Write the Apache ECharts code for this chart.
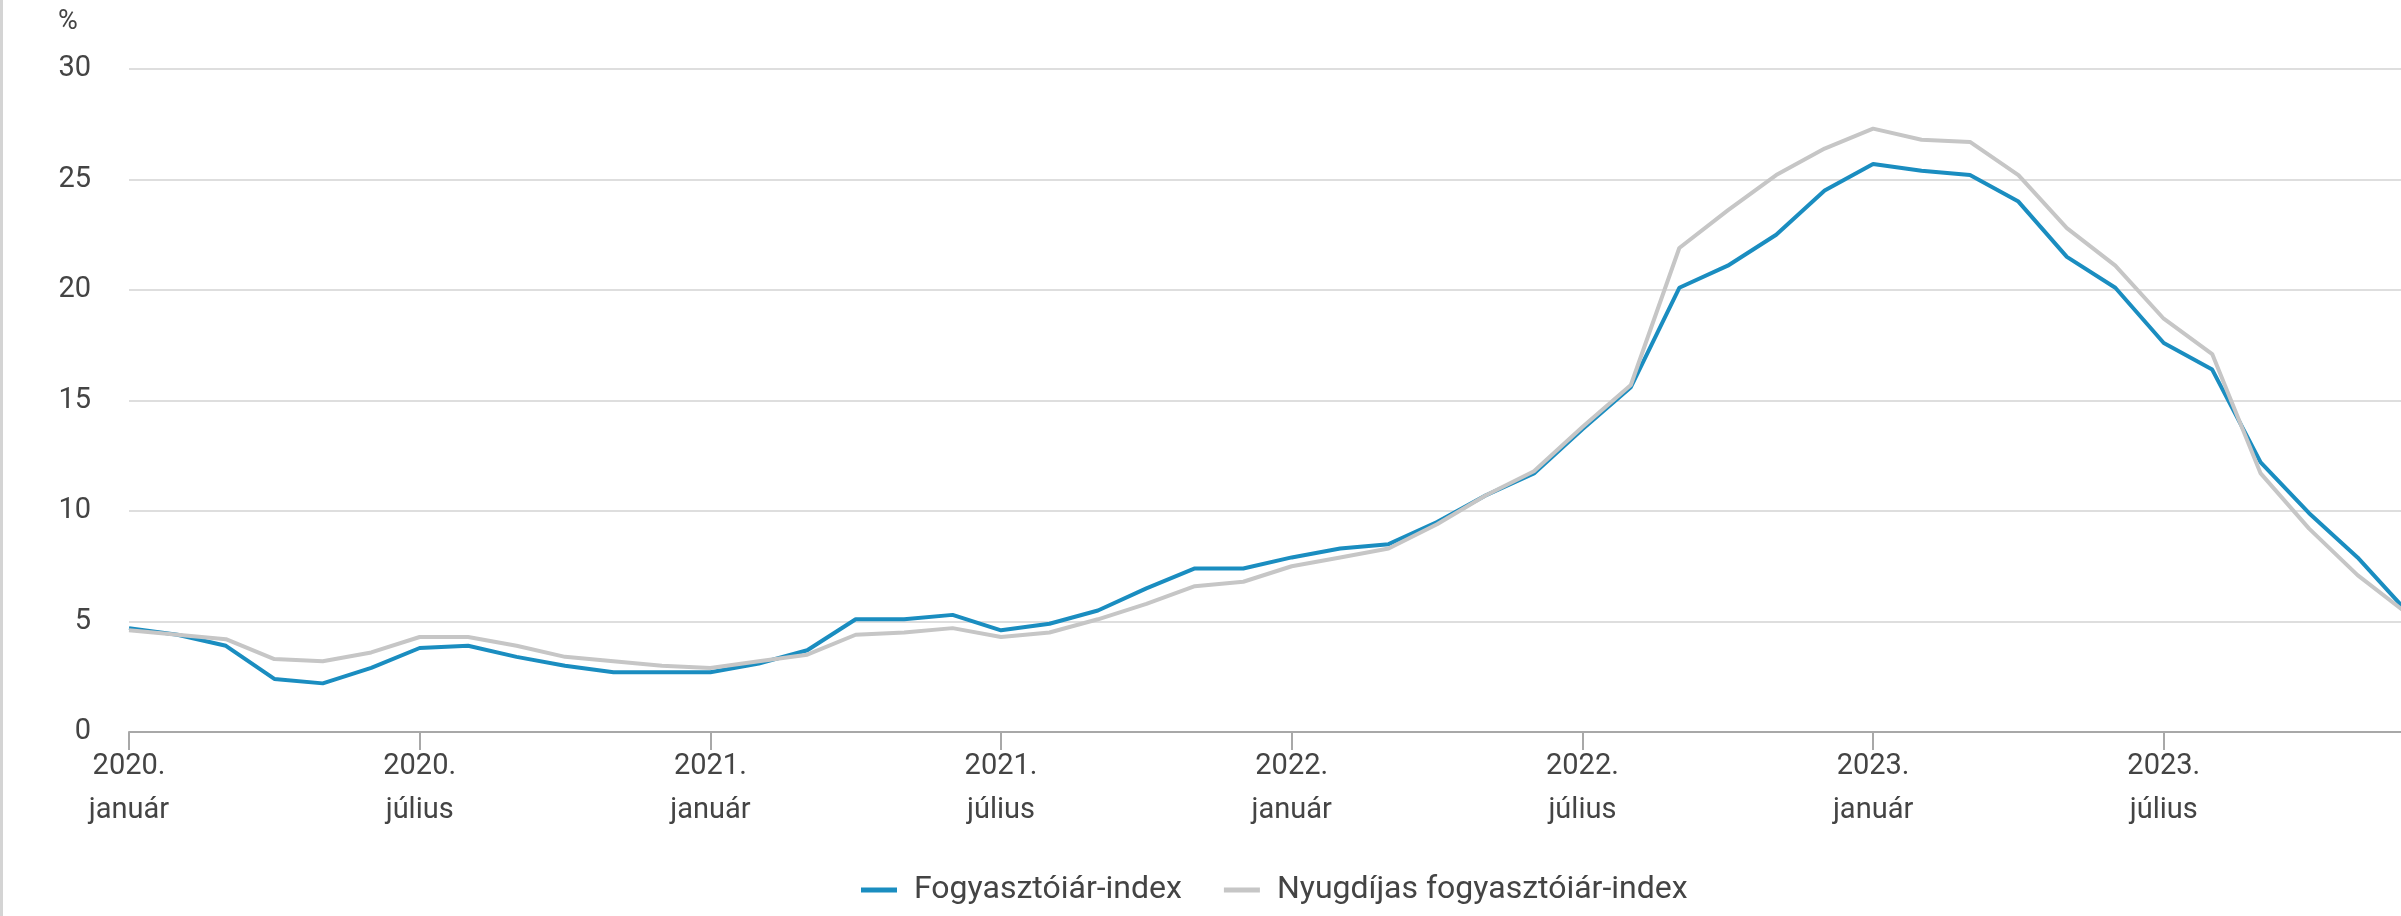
<!DOCTYPE html>
<html>
<head>
<meta charset="utf-8">
<script src="https://cdn.jsdelivr.net/npm/echarts@6/dist/echarts.min.js"></script>
<style>
  html, body { margin: 0; padding: 0; background: #fff; }
  #chart { width: 2401px; height: 916px; }
  #edge { position: absolute; left: 0; top: 0; width: 3px; height: 916px; background: #d4d4d4; }
</style>
</head>
<body>
<div id="chart"></div>
<div id="edge"></div>
<script>
// havi adatok, 2020. január - 2023. december
const years = [2020, 2021, 2022, 2023];
const monthNames = ['január', 'február', 'március', 'április', 'május', 'június',
  'július', 'augusztus', 'szeptember', 'október', 'november', 'december'];

const cpi = [
  4.7, 4.4, 3.9, 2.4, 2.2, 2.9, 3.8, 3.9, 3.4, 3.0, 2.7, 2.7,
  2.7, 3.1, 3.7, 5.1, 5.1, 5.3, 4.6, 4.9, 5.5, 6.5, 7.4, 7.4,
  7.9, 8.3, 8.5, 9.5, 10.7, 11.7, 13.7, 15.6, 20.1, 21.1, 22.5, 24.5,
  25.7, 25.4, 25.2, 24.0, 21.5, 20.1, 17.6, 16.4, 12.2, 9.9, 7.9, 5.5
];
const pensionCpi = [
  4.6, 4.4, 4.2, 3.3, 3.2, 3.6, 4.3, 4.3, 3.9, 3.4, 3.2, 3.0,
  2.9, 3.2, 3.5, 4.4, 4.5, 4.7, 4.3, 4.5, 5.1, 5.8, 6.6, 6.8,
  7.5, 7.9, 8.3, 9.4, 10.7, 11.8, 13.8, 15.7, 21.9, 23.6, 25.2, 26.4,
  27.3, 26.8, 26.7, 25.2, 22.8, 21.1, 18.7, 17.1, 11.7, 9.2, 7.1, 5.4
];

const categories = [];
years.forEach((y) => {
  monthNames.forEach((m) => categories.push(y + '. ' + m));
});

const textColor = '#444';
const myChart = echarts.init(document.getElementById('chart'));
myChart.setOption({
  animation: false,
  textStyle: { fontFamily: 'Roboto' },
  title: {
    text: '%',
    left: 53,
    top: 4,
    textStyle: { fontSize: 27, fontWeight: 'normal', color: textColor, fontFamily: 'Roboto' },
  },
  legend: {
    left: 856,
    top: 869,
    itemWidth: 36,
    itemHeight: 5,
    itemGap: 42,
    icon: 'rect',
    textStyle: { fontSize: 32, color: textColor, padding: [0, 0, 0, 12] },
    data: ['Fogyasztóiár-index', 'Nyugdíjas fogyasztóiár-index'],
  },
  grid: {
    left: 129,
    right: -5,
    top: 69,
    bottom: 184,
    outerBoundsMode: 'none',
  },
  xAxis: {
    type: 'category',
    boundaryGap: false,
    data: categories,
    axisLine: { lineStyle: { color: '#a8a8a8', width: 2 } },
    axisTick: { interval: 5, length: 18, lineStyle: { color: '#a8a8a8', width: 2 } },
    axisLabel: {
      interval: 5,
      margin: 13,
      fontSize: 29,
      lineHeight: 44,
      color: textColor,
      formatter: (v) => v.replace(' ', '\n'),
    },
  },
  yAxis: {
    type: 'value',
    min: 0,
    max: 30,
    interval: 5,
    axisLine: { show: false },
    axisTick: { show: false },
    axisLabel: { fontSize: 29, color: textColor, margin: 38 },
    splitLine: { lineStyle: { color: '#dedede', width: 2 } },
  },
  series: [
    {
      name: 'Fogyasztóiár-index',
      type: 'line',
      data: cpi,
      symbol: 'none',
      itemStyle: { color: '#1a8dc0' },
      lineStyle: { color: '#1a8dc0', width: 4 },
    },
    {
      name: 'Nyugdíjas fogyasztóiár-index',
      type: 'line',
      data: pensionCpi,
      symbol: 'none',
      itemStyle: { color: '#c6c6c6' },
      lineStyle: { color: '#c6c6c6', width: 4 },
    },
  ],
});
window.onresize = function () {
  myChart.resize();
};
</script>
</body>
</html>
